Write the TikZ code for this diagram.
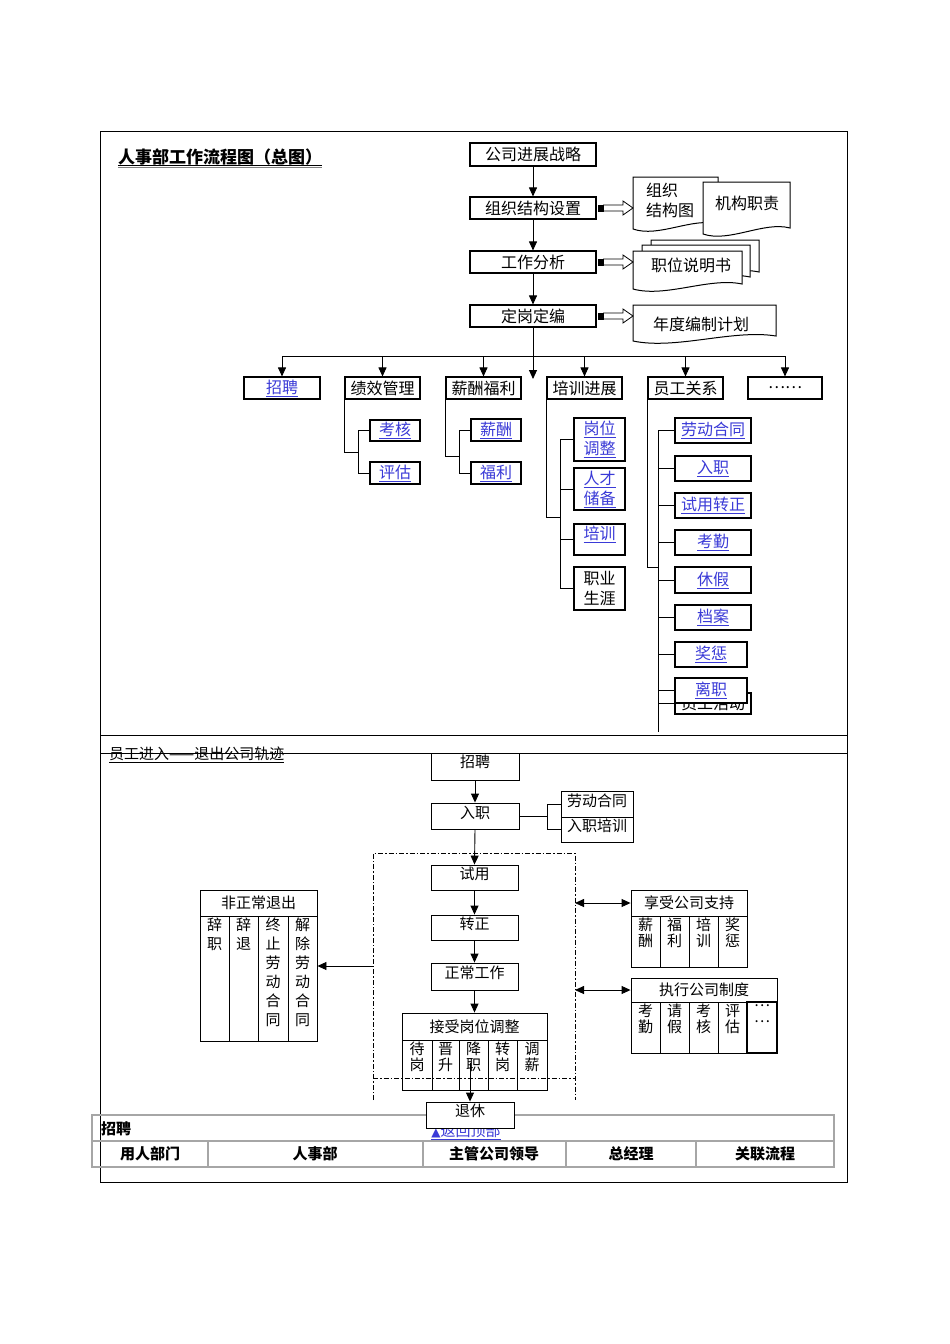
\documentclass[tikz,border=0pt]{standalone}
\usepackage{fontspec}
\setmainfont{Noto Sans CJK SC}
\newfontfamily\dejavu{DejaVu Sans}
\usetikzlibrary{arrows.meta,calc}
\definecolor{linkblue}{RGB}{58,58,215}
\newcommand\lnk[1]{\textcolor{linkblue}{\underline{#1}}}
\newcommand\fA{\fontsize{16}{20}\selectfont}
\newcommand\fB{\fontsize{15}{17}\selectfont}
\newcommand\fC{\fontsize{15}{16}\selectfont}
\newcommand\fD{\fontsize{15}{19}\selectfont}
\newcommand\Bx[7][]{\node[bx,#1,minimum width={#5-#3},minimum height={#6-#4}] (#2) at ({(#3+#5)/2},{(#4+#6)/2}) {#7};}
\newcommand\docshape[5]{\filldraw[fill=white,line width=1pt] (#1,#2) -- (#3,#2) -- (#3,#5) .. controls ({#1+0.7*(#3-#1)},{#5-7}) and ({#1+0.3*(#3-#1)},{#4+9}) .. (#1,#4) -- cycle;}
\newcommand\blk[2]{\fill ($(#1.east)+(1,-3.5)$) rectangle ($(#1.east)+(7,3.5)$);
 \draw[line width=0.8pt,fill=white] ($(#1.east)+(7,-3)$) -- ($(#2)+(-10,-3)$) -- ($(#2)+(-10,-7)$) -- (#2) -- ($(#2)+(-10,7)$) -- ($(#2)+(-10,3)$) -- ($(#1.east)+(7,3)$) -- cycle;}
\begin{document}
\begin{tikzpicture}[x=1pt,y=-1pt,
 bx/.style={draw,line width=1.1pt,fill=white,inner sep=0pt,align=center,font=\fA},
 bb/.style={bx,line width=0.9pt,font=\fB},
 tx/.style={inner sep=0pt,align=center,font=\fA},
 ty/.style={inner sep=0pt,align=center,font=\fB},
 vt/.style={inner sep=0pt,align=center,font=\fC,anchor=north},
 vd/.style={inner sep=0pt,align=center,font=\fD,anchor=north},
 ln/.style={line width=0.9pt},
 arr/.style={line width=0.9pt,-{Triangle[length=9pt,width=8pt]}},
 darr/.style={line width=0.9pt,{Triangle[length=9pt,width=8pt]}-{Triangle[length=9pt,width=8pt]}},
 dd/.style={line width=0.6pt,dash pattern=on 5pt off 2pt on 1.5pt off 2pt},
 tb/.style={inner sep=0pt,font=\bfseries\fB},
 tl/.style={line width=1.1pt,draw=gray!70}]
\fill[white] (0,0) rectangle (950,1344);
\useasboundingbox (0,0) rectangle (950,1344);
% frame
\draw[line width=1pt] (100,131) rectangle (847,1182);
\draw[line width=1pt] (100,735) -- (847,735);
\draw[line width=1pt] (100,753) -- (847,753);
% title
\node[anchor=south west,inner sep=0pt,font=\bfseries\fontsize{17}{19}\selectfont] (t1) at (118,165) {人事部工作流程图（总图）};
\draw[line width=0.9pt] (t1.south west) -- (t1.south east);
\draw[line width=1pt,gray] ($(t1.south west)+(0,2.5)$) -- ($(t1.south east)+(0,2.5)$);
% main flow
\Bx{s1}{470}{143}{596}{166}{公司进展战略}
\Bx{s2}{470}{197}{596}{219}{组织结构设置}
\Bx{s3}{470}{251}{596}{273}{工作分析}
\Bx{s4}{470}{305}{596}{327}{定岗定编}
\draw[arr] (s1.south) -- (s2.north);
\draw[arr] (s2.south) -- (s3.north);
\draw[arr] (s3.south) -- (s4.north);
\coordinate (hub) at (533,356);
\coordinate (mtip) at (533,379);
\draw[ln] (s4.south) -- (hub);
\draw[arr] (hub) -- (mtip);
% documents
\docshape{633}{177}{718}{229}{224}
\node[tx,align=left,anchor=west] (d1) at (646,200) {组织\\结构图};
\docshape{703}{182}{790}{234}{228}
\node[tx] (d2) at (747,203) {机构职责};
\docshape{651}{240}{759}{277}{272}
\docshape{642}{245}{750}{282}{277}
\docshape{633}{251}{742}{289}{284}
\node[tx] (d3) at (691,265) {职位说明书};
\docshape{633}{305}{776}{341}{336}
\node[tx] (d4) at (701,324) {年度编制计划};
\coordinate (d1in) at (633,208);
\coordinate (d3in) at (633,262);
\coordinate (d4in) at (633,316);
\blk{s2}{d1in}
\blk{s3}{d3in}
\blk{s4}{d4in}
% row
\Bx{r1}{244}{377}{320}{399}{\lnk{招聘}}
\Bx{r2}{345}{377}{420}{399}{绩效管理}
\Bx{r3}{446}{377}{521}{399}{薪酬福利}
\Bx{r4}{547}{377}{622}{399}{培训进展}
\Bx{r5}{648}{377}{723}{399}{员工关系}
\Bx{r6}{748}{377}{822}{399}{……}
\draw[ln] (r1.north |- hub) -- (r6.north |- hub);
\foreach \r in {r1,r2,r3,r4,r5,r6} \draw[arr] (\r.north |- hub) -- (\r.north);
% 绩效管理
\Bx{k1}{370}{420}{420}{441}{\lnk{考核}}
\Bx{k2}{370}{462}{420}{484}{\lnk{评估}}
\coordinate (sp2) at (358,452);
\draw[ln] (r2.south west) |- (sp2);
\draw[ln] (sp2 |- k1.west) -- (sp2 |- k2.west);
\draw[ln] (sp2 |- k1.west) -- (k1.west);
\draw[ln] (sp2 |- k2.west) -- (k2.west);
% 薪酬福利
\Bx{x1}{471}{419}{521}{441}{\lnk{薪酬}}
\Bx{x2}{471}{462}{521}{484}{\lnk{福利}}
\coordinate (sp3) at (459,456);
\draw[ln] (r3.south west) |- (sp3);
\draw[ln] (sp3 |- x1.west) -- (sp3 |- x2.west);
\draw[ln] (sp3 |- x1.west) -- (x1.west);
\draw[ln] (sp3 |- x2.west) -- (x2.west);
% 培训进展
\Bx{p1}{574}{418}{625}{461}{\lnk{岗位}\\\lnk{调整}}
\Bx{p2}{574}{468}{625}{510}{\lnk{人才}\\\lnk{储备}}
\Bx{p3}{574}{524}{625}{555}{}
\node[tx] (p3t) at (599.5,534) {\lnk{培训}};
\Bx{p4}{574}{567}{625}{610}{职业\\生涯}
\coordinate (sp4) at (560,517);
\draw[ln] (r4.south west) |- (sp4);
\draw[ln] (sp4 |- p1.west) -- (sp4 |- p4.west);
\foreach \p in {p1,p2,p3,p4} \draw[ln] (sp4 |- \p.west) -- (\p.west);
% 员工关系
\Bx{e1}{675}{418}{751}{443}{\lnk{劳动合同}}
\Bx{e2}{675}{456}{751}{481}{\lnk{入职}}
\Bx{e3}{675}{493}{751}{518}{\lnk{试用转正}}
\Bx{e4}{675}{530}{751}{555}{\lnk{考勤}}
\Bx{e5}{675}{567}{751}{593}{\lnk{休假}}
\Bx{e6}{675}{605}{751}{630}{\lnk{档案}}
\Bx{e7}{675}{642}{747}{667}{\lnk{奖惩}}
\Bx{e9}{675}{693}{751}{714}{}
\node[tx] (e9t) at (713,703) {员工活动};
\Bx{e8}{675}{678}{747}{703}{\lnk{离职}}
\coordinate (sp5) at (658,567);
\coordinate (sp5end) at (658,732);
\draw[ln] (r5.south west) |- (sp5);
\draw[ln] (sp5 |- e1.west) -- (sp5end);
\foreach \e in {e1,e2,e3,e4,e5,e6,e7,e8,e9} \draw[ln] (sp5 |- \e.west) -- (\e.west);
% ===== bottom section =====
\node[anchor=west,inner sep=0pt,font=\fB] (t2) at (109,755) {\underline{员工进入——退出公司轨迹}};
\draw[dd] (373,1100) -- (373,853) -- (575,853) -- (575,1100);
\Bx[bb]{b1}{431}{753}{519}{780}{}
\node[ty] (b1t) at (475,762) {招聘};
\Bx[bb]{b2}{431}{803}{519}{829}{}
\node[ty] (b2t) at (475,813) {入职};
\Bx[bb]{h1}{561}{791}{633}{817}{}
\node[ty] (h1t) at (597,801) {劳动合同};
\Bx[bb]{h2}{561}{817}{633}{842}{}
\node[ty] (h2t) at (597,826) {入职培训};
\coordinate (hsp) at (547,816);
\draw[ln] (b2.east) -- (hsp);
\draw[ln] (hsp |- h1.west) -- (hsp |- h2.west);
\draw[ln] (hsp |- h1.west) -- (h1.west);
\draw[ln] (hsp |- h2.west) -- (h2.west);
\Bx[bb]{b3}{431}{865}{518}{890}{}
\node[ty] (b3t) at (474.5,874) {试用};
\Bx[bb]{b4}{431}{915}{518}{940}{}
\node[ty] (b4t) at (474.5,924) {转正};
\Bx[bb]{b5}{431}{963}{518}{990}{}
\node[ty] (b5t) at (474.5,973) {正常工作};
\draw[arr] (b1.south) -- (b2.north);
\draw[arr] (b2.south) -- (b3.north);
\draw[arr] (b3.south) -- (b4.north);
\draw[arr] (b4.south) -- (b5.north);
% 接受岗位调整
\Bx[bb]{g0}{402}{1013}{547}{1040}{接受岗位调整}
\Bx[bb]{g1}{402}{1040}{432}{1090}{}
\Bx[bb]{g2}{432}{1040}{459}{1090}{}
\Bx[bb]{g3}{459}{1040}{488}{1090}{}
\Bx[bb]{g4}{488}{1040}{517}{1090}{}
\Bx[bb]{g5}{517}{1040}{547}{1090}{}
\node[vt] (g1t) at (417,1042) {待\\岗};
\node[vt] (g2t) at (445.5,1042) {晋\\升};
\node[vt] (g3t) at (473.5,1042) {降\\职};
\node[vt] (g4t) at (502.5,1042) {转\\岗};
\node[vt] (g5t) at (532,1042) {调\\薪};
\draw[arr] (b5.south) -- (g0.north);
\draw[dd] (373,1078) -- (575,1078);
% 非正常退出
\Bx[bb]{f0}{200}{890}{317}{916}{非正常退出}
\Bx[bb]{f1}{200}{916}{229}{1041}{}
\Bx[bb]{f2}{229}{916}{258}{1041}{}
\Bx[bb]{f3}{258}{916}{288}{1041}{}
\Bx[bb]{f4}{288}{916}{317}{1041}{}
\node[vd] (f1t) at (214.5,918) {辞\\职};
\node[vd] (f2t) at (243.5,918) {辞\\退};
\node[vd] (f3t) at (273,918) {终\\止\\劳\\动\\合\\同};
\node[vd] (f4t) at (302.5,918) {解\\除\\劳\\动\\合\\同};
\coordinate (ddl) at (373,966);
\draw[arr] (ddl) -- (ddl -| f4.east);
% 享受公司支持
\Bx[bb]{z0}{631}{890}{747}{916}{享受公司支持}
\Bx[bb]{z1}{631}{916}{660}{967}{}
\Bx[bb]{z2}{660}{916}{689}{967}{}
\Bx[bb]{z3}{689}{916}{718}{967}{}
\Bx[bb]{z4}{718}{916}{747}{967}{}
\node[vt] (z1t) at (645.5,918) {薪\\酬};
\node[vt] (z2t) at (674.5,918) {福\\利};
\node[vt] (z3t) at (703.5,918) {培\\训};
\node[vt] (z4t) at (732.5,918) {奖\\惩};
\coordinate (dd1) at (575,903);
\draw[darr] (dd1) -- (z0.west);
% 执行公司制度
\Bx[bb]{y0}{631}{978}{777}{1002}{执行公司制度}
\Bx[bb]{y1}{631}{1002}{660}{1053}{}
\Bx[bb]{y2}{660}{1002}{689}{1053}{}
\Bx[bb]{y3}{689}{1002}{718}{1053}{}
\Bx[bb]{y4}{718}{1002}{747}{1053}{}
\Bx[bb,line width=1.4pt]{y5}{747}{1002}{777}{1053}{}
\node[vt] (y1t) at (645.5,1004) {考\\勤};
\node[vt] (y2t) at (674.5,1004) {请\\假};
\node[vt] (y3t) at (703.5,1004) {考\\核};
\node[vt] (y4t) at (732.5,1004) {评\\估};
\node[vt] (y5t) at (762,1004) {…\\…};
\coordinate (dd2) at (575,990);
\draw[darr] (dd2) -- (y0.west);
% table
\draw[tl] (92,1115) rectangle (834,1167);
\draw[tl] (92,1141) -- (834,1141);
\foreach \c in {208,423,566,696} \draw[tl] (\c,1141) -- (\c,1167);
\node[tb,anchor=west] (tz) at (101,1129) {招聘};
\node[ty] (top) at (466,1132) {\textcolor{linkblue}{\underline{{\dejavu\fontsize{12}{14}\selectfont ▲}返回顶部}}};
\node[tb] (c1) at (150,1154) {用人部门};
\node[tb] (c2) at (315,1154) {人事部};
\node[tb] (c3) at (494,1154) {主管公司领导};
\node[tb] (c4) at (631,1154) {总经理};
\node[tb] (c5) at (765,1154) {关联流程};
% 退休
\Bx[bb]{b7}{426}{1102}{514}{1128}{}
\node[ty] (b7t) at (470,1111) {退休};
\coordinate (rs) at (470,1063);
\draw[arr] (rs) -- (b7.north);
\end{tikzpicture}
\end{document}
